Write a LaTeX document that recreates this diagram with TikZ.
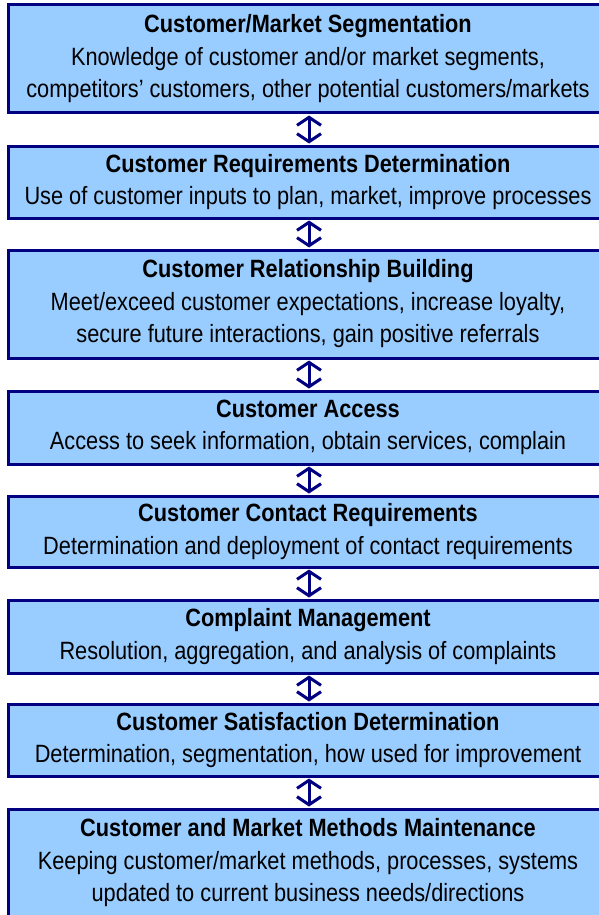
\documentclass[tikz,border=0pt]{standalone}
\usepackage{fontspec}
\setmainfont{Liberation Sans}[FakeStretch=0.87]
\usetikzlibrary{arrows.meta}
\definecolor{boxfill}{HTML}{99CCFF}
\definecolor{boxline}{HTML}{000080}
\tikzset{
  stagebox/.style={draw=boxline, line width=3pt, fill=boxfill, minimum width=600pt,
    inner sep=0pt, align=center, font=\fontsize{25}{32.5}\selectfont, text=black},
  linkarrow/.style={draw=boxline, line width=3pt, {Straight Barb[length=8pt,width=24pt]}-{Straight Barb[length=8pt,width=24pt]}, shorten <=1pt, shorten >=1pt}
}
\begin{document}
\begin{tikzpicture}[x=1pt,y=-1pt]
\useasboundingbox (0,0) rectangle (599,915);
\node[stagebox, minimum height=108pt] (b1) at (308,59) {\textbf{Customer/Market Segmentation}\\Knowledge of customer and/or market segments,\\competitors’ customers, other potential customers/markets};
\node[stagebox, minimum height=72pt] (b2) at (308,182) {\textbf{Customer Requirements Determination}\\Use of customer inputs to plan, market, improve processes};
\node[stagebox, minimum height=108pt] (b3) at (308,304) {\textbf{Customer Relationship Building}\\Meet/exceed customer expectations, increase loyalty,\\secure future interactions, gain positive referrals};
\node[stagebox, minimum height=73pt] (b4) at (308,427.5) {\textbf{Customer Access}\\Access to seek information, obtain services, complain};
\node[stagebox, minimum height=71pt] (b5) at (308,531.5) {\textbf{Customer Contact Requirements}\\Determination and deployment of contact requirements};
\node[stagebox, minimum height=73pt] (b6) at (308,636.5) {\textbf{Complaint Management}\\Resolution, aggregation, and analysis of complaints};
\node[stagebox, minimum height=72pt] (b7) at (308,740) {\textbf{Customer Satisfaction Determination}\\Determination, segmentation, how used for improvement};
\node[stagebox, minimum height=108pt] (b8) at (308,863) {\textbf{Customer and Market Methods Maintenance}\\Keeping customer/market methods, processes, systems\\updated to current business needs/directions};
\foreach \a/\b in {b1/b2,b2/b3,b3/b4,b4/b5,b5/b6,b6/b7,b7/b8}
  \draw[linkarrow] (\a.south -| 309,0) -- (\b.north -| 309,0);
\end{tikzpicture}
\end{document}
